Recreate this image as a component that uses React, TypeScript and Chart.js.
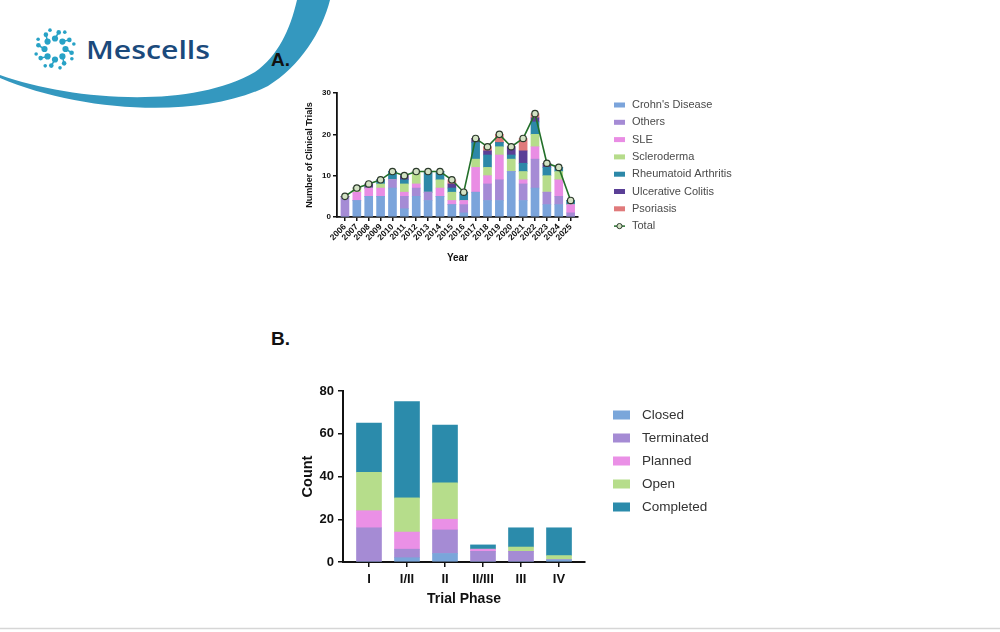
import React, { useEffect, useRef } from "react";
import { Chart, registerables } from "chart.js";

Chart.register(...registerables);
Chart.defaults.font.family = "'Liberation Sans', Arial, sans-serif";

// ---- Panel A: clinical trials per year, by indication ----
const years = [
  "2006", "2007", "2008", "2009", "2010", "2011", "2012", "2013", "2014", "2015",
  "2016", "2017", "2018", "2019", "2020", "2021", "2022", "2023", "2024", "2025",
];
const crohns = [0, 4, 5, 5, 7, 2, 5, 4, 5, 3, 1, 6, 4, 4, 11, 4, 7, 3, 3, 0];
const others = [5, 0, 0, 0, 2, 3, 2, 2, 0, 0, 2, 0, 4, 5, 0, 4, 7, 3, 2, 1];
const sle = [0, 2, 2, 2, 0, 1, 1, 0, 2, 1, 1, 6, 2, 6, 0, 1, 3, 0, 4, 2];
const scleroderma = [0, 1, 0, 1, 0, 2, 3, 0, 2, 2, 0, 2, 2, 2, 3, 2, 3, 4, 2, 0];
const rheumatoid = [0, 0, 0, 1, 2, 1, 0, 5, 2, 1, 2, 4, 3, 1, 1, 2, 3, 2, 1, 1];
const ulcerative = [0, 0, 1, 0, 0, 1, 0, 0, 0, 1, 0, 1, 1, 0, 2, 3, 1, 1, 0, 0];
const psoriasis = [0, 0, 0, 0, 0, 0, 0, 0, 0, 1, 0, 0, 1, 2, 0, 3, 1, 0, 0, 0];
const totals = [5, 7, 8, 9, 11, 10, 11, 11, 11, 9, 6, 19, 17, 20, 17, 19, 25, 13, 12, 4];
const yTicksA = [0, 10, 20, 30];

// ---- Panel B: trials by phase and status ----
const phases = ["I", "I/II", "II", "II/III", "III", "IV"];
const closed = [0, 2, 4, 0, 0, 1];
const terminated = [16, 4, 11, 5, 5, 0];
const planned = [8, 8, 5, 1, 0, 0];
const openTrials = [18, 16, 17, 0, 2, 2];
const completed = [23, 45, 27, 2, 9, 13];
const yTicksB = [0, 20, 40, 60, 80];

const toPoints = (vals: number[]) => vals.map((y, x) => ({ x, y }));

// Legend drawn beside the plot, one row per dataset
const sideLegend = {
  id: "sideLegend",
  afterDraw(chart: any, _args: any, opts: any) {
    const { ctx } = chart;
    ctx.save();
    ctx.font = opts.font;
    ctx.textBaseline = "middle";
    chart.data.datasets.forEach((ds: any, i: number) => {
      const y = opts.y + i * opts.dy;
      if (ds.type === "line") {
        ctx.strokeStyle = ds.borderColor;
        ctx.lineWidth = 1.5;
        ctx.beginPath();
        ctx.moveTo(opts.x, y);
        ctx.lineTo(opts.x + opts.w, y);
        ctx.stroke();
        ctx.beginPath();
        ctx.arc(opts.x + opts.w / 2, y, 2.6, 0, Math.PI * 2);
        ctx.fillStyle = ds.pointBackgroundColor;
        ctx.fill();
        ctx.strokeStyle = ds.pointBorderColor;
        ctx.lineWidth = 1;
        ctx.stroke();
      } else {
        ctx.fillStyle = ds.backgroundColor;
        ctx.fillRect(opts.x, y - opts.h / 2, opts.w, opts.h);
      }
      ctx.fillStyle = opts.color;
      ctx.fillText(ds.label, opts.textX, y);
    });
    ctx.restore();
  },
};

const axisGrid = (len: number) => ({
  offset: false,
  drawOnChartArea: false,
  drawTicks: true,
  tickLength: len,
  color: "#111",
  lineWidth: 1.5,
});
const axisBorder = { display: true, color: "#111", width: 1.8 };

function buildConfigA(): any {
  const bar = (label: string, data: number[], color: string) => ({
    type: "bar",
    label,
    data: toPoints(data),
    backgroundColor: color,
    barThickness: 8,
    stack: "diseases",
  });
  return {
    type: "bar",
    data: {
      datasets: [
        bar("Crohn's Disease", crohns, "#7ba4db"),
        bar("Others", others, "#a58bd5"),
        bar("SLE", sle, "#e98de4"),
        bar("Scleroderma", scleroderma, "#b6dc8b"),
        bar("Rheumatoid Arthritis", rheumatoid, "#2c88a8"),
        bar("Ulcerative Colitis", ulcerative, "#5a3f96"),
        bar("Psoriasis", psoriasis, "#e07a7b"),
        {
          type: "line",
          label: "Total",
          data: toPoints(totals),
          stack: "total",
          order: -1,
          borderColor: "#23702a",
          borderWidth: 1.6,
          pointRadius: 3.2,
          pointBackgroundColor: "#d3e2c4",
          pointBorderColor: "#2c3a2c",
          pointBorderWidth: 1.2,
          tension: 0,
        },
      ],
    },
    options: {
      responsive: false,
      animation: false,
      layout: { padding: { left: 40, top: 13, right: 182, bottom: 7 } },
      plugins: {
        legend: { display: false },
        tooltip: { enabled: false },
        sideLegend: {
          x: 354, y: 25, dy: 17.3, w: 11, h: 5, textX: 372,
          font: "11px 'Liberation Sans', Arial, sans-serif", color: "#4a4a4a",
        },
      },
      scales: {
        x: {
          type: "linear",
          offset: false,
          stacked: true,
          min: -0.67,
          max: 19.62,
          afterBuildTicks: (s: any) => {
            s.ticks = years.map((_, i) => ({ value: i }));
          },
          afterFit: (s: any) => {
            s.height = 51;
          },
          ticks: {
            callback: (v: number) => years[v],
            autoSkip: false,
            minRotation: 45,
            maxRotation: 45,
            padding: 1,
            color: "#111",
            font: { size: 8.5, weight: "bold" },
          },
          grid: axisGrid(4),
          border: axisBorder,
          title: {
            display: true,
            text: "Year",
            color: "#111",
            font: { size: 10, weight: "bold" },
          },
        },
        y: {
          stacked: true,
          min: 0,
          max: 30,
          afterBuildTicks: (s: any) => {
            s.ticks = yTicksA.map((value) => ({ value }));
          },
          afterFit: (s: any) => {
            s.width = 37;
          },
          ticks: {
            padding: 2,
            color: "#111",
            font: { size: 8, weight: "bold" },
          },
          grid: axisGrid(4),
          border: axisBorder,
          title: {
            display: true,
            text: "Number of Clinical Trials",
            color: "#111",
            font: { size: 9, weight: "bold" },
          },
        },
      },
    },
    plugins: [sideLegend],
  };
}

function buildConfigB(): any {
  const bar = (label: string, data: number[], color: string) => ({
    label,
    data: toPoints(data),
    backgroundColor: color,
    barThickness: 25,
  });
  return {
    type: "bar",
    data: {
      datasets: [
        bar("Closed", closed, "#7aa6da"),
        bar("Terminated", terminated, "#a58bd4"),
        bar("Planned", planned, "#ea90e6"),
        bar("Open", openTrials, "#b6dd8b"),
        bar("Completed", completed, "#2b8bab"),
      ],
    },
    options: {
      responsive: false,
      animation: false,
      layout: { padding: { left: 15, top: 16, right: 155, bottom: 3 } },
      plugins: {
        legend: { display: false },
        tooltip: { enabled: false },
        sideLegend: {
          x: 333, y: 40, dy: 23, w: 17, h: 9, textX: 362,
          font: "13.5px 'Liberation Sans', Arial, sans-serif", color: "#333",
        },
      },
      scales: {
        x: {
          type: "linear",
          offset: false,
          stacked: true,
          min: -0.684,
          max: 5.684,
          afterBuildTicks: (s: any) => {
            s.ticks = phases.map((_, i) => ({ value: i }));
          },
          afterFit: (s: any) => {
            s.height = 50;
          },
          ticks: {
            callback: (v: number) => phases[v],
            autoSkip: false,
            maxRotation: 0,
            padding: 5,
            color: "#111",
            font: { size: 13, weight: "bold" },
          },
          grid: axisGrid(5),
          border: { display: true, color: "#111", width: 2 },
          title: {
            display: true,
            text: "Trial Phase",
            color: "#111",
            font: { size: 14, weight: "bold" },
          },
        },
        y: {
          stacked: true,
          min: 0,
          max: 80,
          afterBuildTicks: (s: any) => {
            s.ticks = yTicksB.map((value) => ({ value }));
          },
          afterFit: (s: any) => {
            s.width = 48;
          },
          ticks: {
            padding: 4,
            color: "#111",
            font: { size: 13, weight: "bold" },
          },
          grid: axisGrid(5),
          border: { display: true, color: "#111", width: 2 },
          title: {
            display: true,
            text: "Count",
            color: "#111",
            font: { size: 14.5, weight: "bold" },
          },
        },
      },
    },
    plugins: [sideLegend],
  };
}

// Company mark: ring of branching dots
function LogoMark() {
  const cx = 55;
  const cy = 49;
  const teal = "#28a2c6";
  const parts: React.ReactNode[] = [];
  for (let k = 0; k < 8; k++) {
    const a = (k * 45 - 90) * (Math.PI / 180);
    const a2 = a + 0.22;
    const a3 = a - 0.26;
    const p = (r: number, ang: number) => [cx + r * Math.cos(ang), cy + r * Math.sin(ang)];
    const [x1, y1] = p(10.5, a);
    const [x2, y2] = p(17, a2);
    const [x3, y3] = p(19.5, a3);
    parts.push(
      <g key={k}>
        <line x1={x1} y1={y1} x2={x2} y2={y2} stroke={teal} strokeWidth={1.5} />
        <circle cx={x1} cy={y1} r={3.1} fill={teal} />
        <circle cx={x2} cy={y2} r={2.3} fill={teal} />
        <circle cx={x3} cy={y3} r={1.8} fill={teal} />
      </g>
    );
  }
  return <g>{parts}</g>;
}

export default function App() {
  const refA = useRef<HTMLCanvasElement>(null);
  const refB = useRef<HTMLCanvasElement>(null);

  useEffect(() => {
    const a = new Chart(refA.current as HTMLCanvasElement, buildConfigA());
    const b = new Chart(refB.current as HTMLCanvasElement, buildConfigB());
    return () => {
      a.destroy();
      b.destroy();
    };
  }, []);

  return (
    <div
      style={{
        position: "fixed",
        left: 0,
        top: 0,
        width: 1000,
        height: 632,
        background: "#fff",
        overflow: "hidden",
      }}
    >
      <svg
        width={1000}
        height={632}
        style={{ position: "absolute", left: 0, top: 0 }}
      >
        <path
          d="M 0 75 C 70 100, 190 110, 255 72 C 278 56, 290 30, 297 0 L 330 0 C 322 32, 300 66, 268 86 C 200 120, 80 112, 0 78 Z"
          fill="#3498bf"
        />
        <LogoMark />
        <text
          x={86}
          y={58.5}
          fontFamily="'Open Sans', sans-serif"
          fontWeight={600}
          fontSize={25}
          fill="#1b4a7c"
          textLength={124}
          lengthAdjust="spacingAndGlyphs"
        >
          Mescells
        </text>
        <text
          x={271}
          y={65.5}
          fontFamily="'Liberation Sans', Arial, sans-serif"
          fontWeight="bold"
          fontSize={19}
          fill="#111"
        >
          A.
        </text>
        <text
          x={271}
          y={345}
          fontFamily="'Liberation Sans', Arial, sans-serif"
          fontWeight="bold"
          fontSize={19}
          fill="#111"
        >
          B.
        </text>
        <line x1={0} y1={628.5} x2={1000} y2={628.5} stroke="#d6d6d6" strokeWidth={1.5} />
      </svg>
      <canvas
        ref={refA}
        width={500}
        height={195}
        style={{ position: "absolute", left: 260, top: 80, display: "block" }}
      />
      <canvas
        ref={refB}
        width={460}
        height={240}
        style={{ position: "absolute", left: 280, top: 375, display: "block" }}
      />
    </div>
  );
}
